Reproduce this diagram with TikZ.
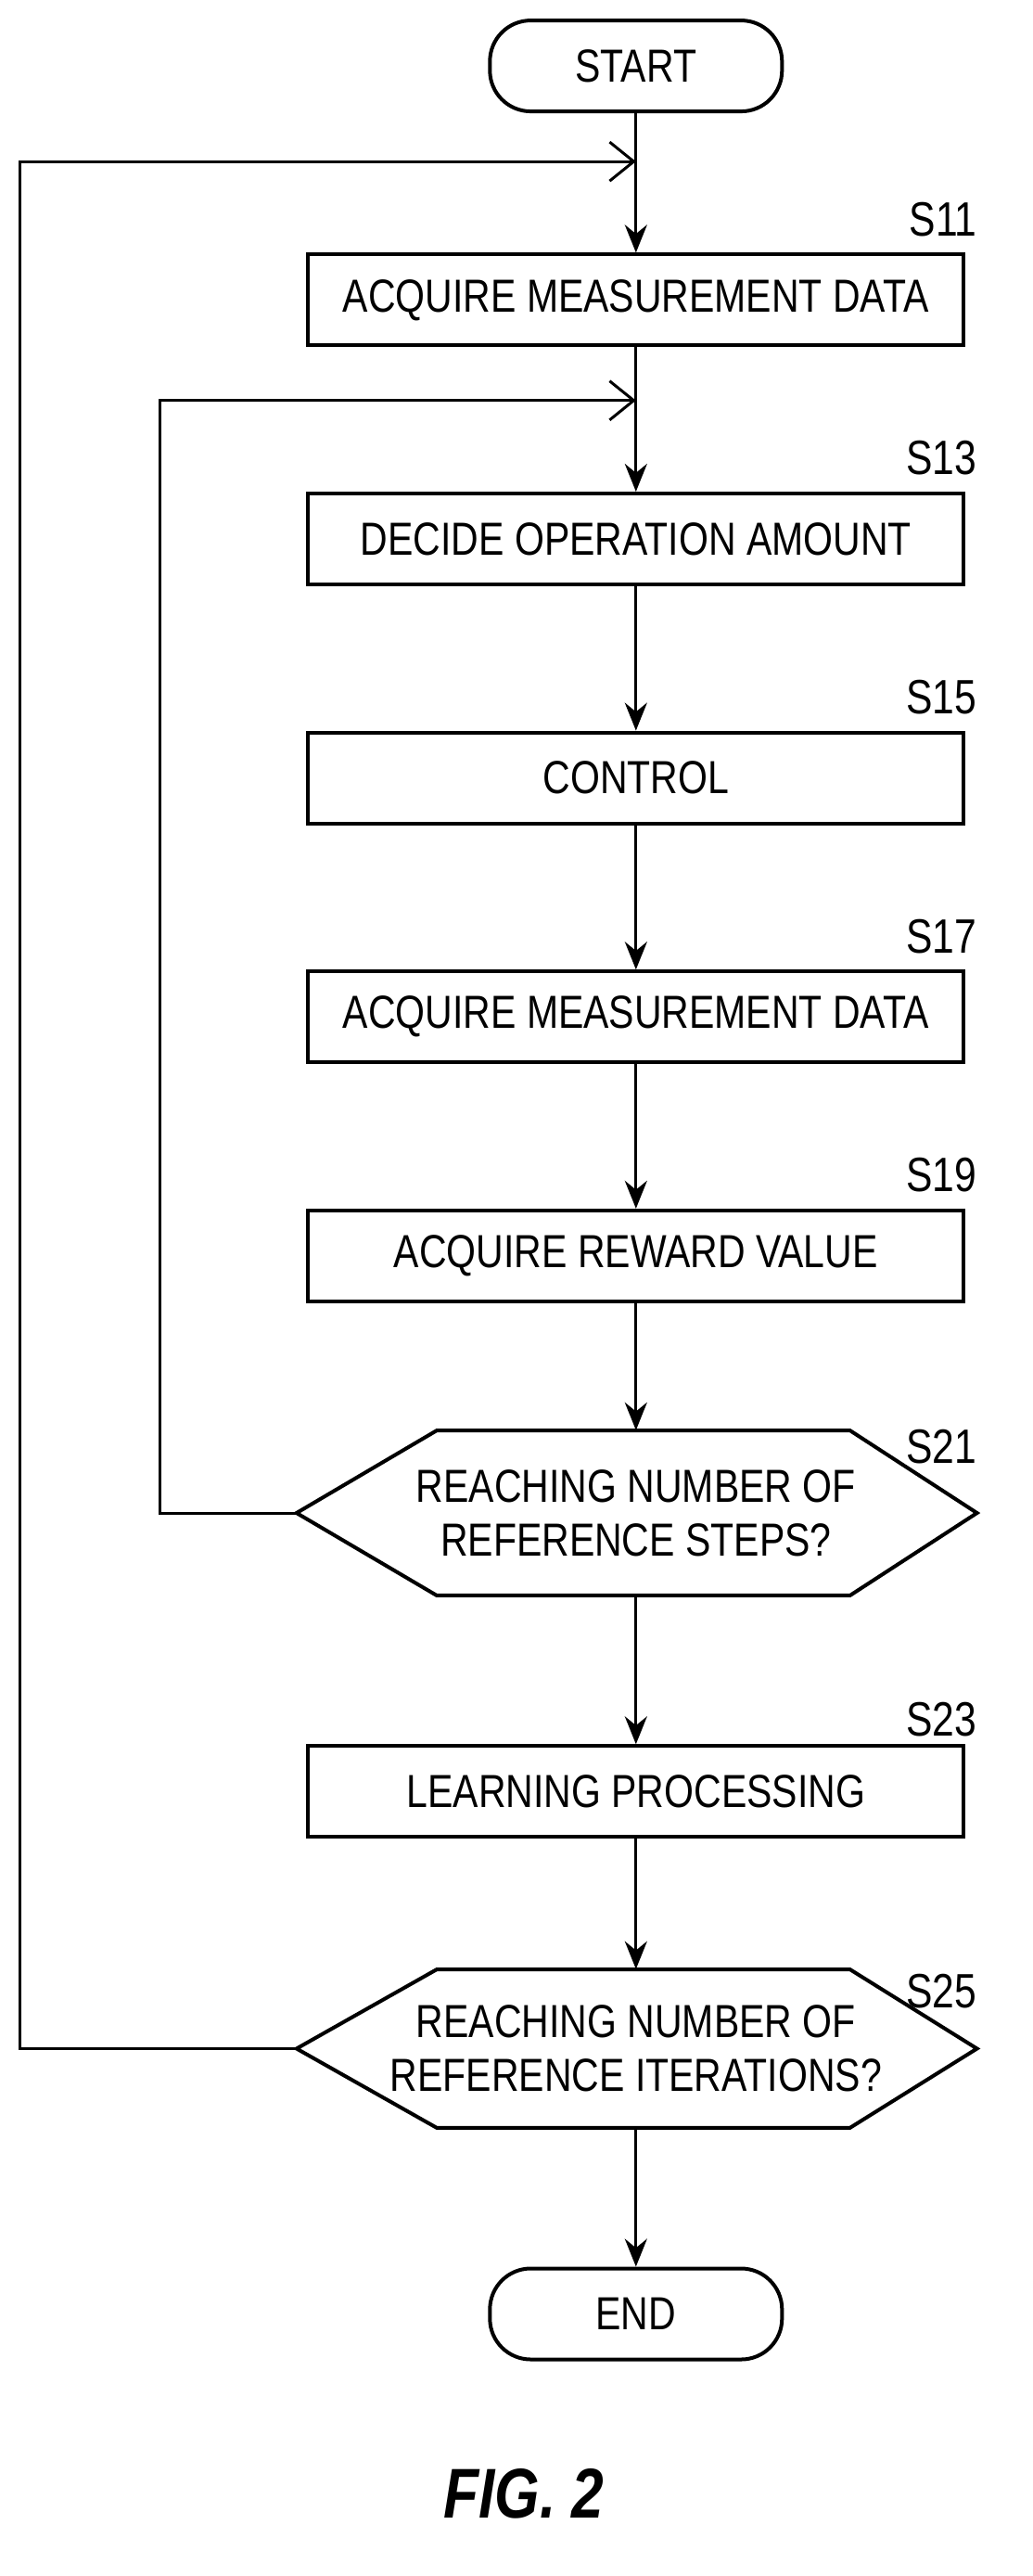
\documentclass[tikz,border=0pt]{standalone}
\usepackage{fontspec}
\setmainfont{Liberation Sans}[FakeStretch=0.82]
\usetikzlibrary{arrows.meta,positioning}
\begin{document}
\begin{tikzpicture}[x=1.7767pt,y=-1.7767pt,
  txt/.style={font=\fontsize{50}{58}\selectfont, align=center},
  box/.style={draw, line width=4pt, minimum width=707pt, minimum height=98pt, inner sep=0pt, txt},
  term/.style={draw, line width=4pt, rounded corners=44pt, minimum width=315pt, minimum height=98pt, inner sep=0pt, txt},
  lab/.style={font=\fontsize{52}{60}\selectfont, anchor=east, inner sep=0pt},
  flow/.style={line width=3pt, -{Stealth[length=30pt,width=24pt]}},
  back/.style={line width=3pt, -{Straight Barb[length=26pt,width=42pt,line width=3pt]}},
  hex/.style={line width=4pt, line join=miter}]
\useasboundingbox (0,0) rectangle (627,1563);
\node[term] (start) at (386,40) {START};
\node[box] (s11) at (386,182) {ACQUIRE MEASUREMENT DATA};
\node[box] (s13) at (386,327) {DECIDE OPERATION AMOUNT};
\node[box] (s15) at (386,472) {CONTROL};
\node[box] (s17) at (386,617) {ACQUIRE MEASUREMENT DATA};
\node[box] (s19) at (386,762) {ACQUIRE REWARD VALUE};
% hexagon S21
\draw[hex] (180,918) -- (265,868) -- (516,868) -- (593,918) -- (516,968) -- (265,968) -- cycle;
\node[txt, minimum width=734pt, minimum height=178pt, inner sep=0pt] (s21) at (386,918) {REACHING NUMBER OF\\REFERENCE STEPS?};
\coordinate (s21w) at (180,918);
\node[box] (s23) at (386,1087) {LEARNING PROCESSING};
\draw[hex] (180,1243) -- (265,1195) -- (516,1195) -- (593,1243) -- (516,1291) -- (265,1291) -- cycle;
\node[txt, minimum width=734pt, minimum height=171pt, inner sep=0pt] (s25) at (386,1243) {REACHING NUMBER OF\\REFERENCE ITERATIONS?};
\coordinate (s25w) at (180,1243);
\node[term] (end) at (386,1404) {END};
\node[lab] (l11) at (593,133) {S11};
\node[lab] (l13) at (593,278) {S13};
\node[lab] (l15) at (593,423) {S15};
\node[lab] (l17) at (593,568) {S17};
\node[lab] (l19) at (593,713) {S19};
\node[lab] (l21) at (593,878) {S21};
\node[lab] (l23) at (593,1043) {S23};
\node[lab] (l25) at (593,1208) {S25};
\node[font=\fontsize{76}{80}\selectfont\bfseries\itshape] (fig) at (318,1513) {FIG. 2};
\coordinate (j1) at (386,98);
\coordinate (j2) at (386,243);
\draw[flow] (start) -- (s11);
\draw[flow] (s11) -- (s13);
\draw[flow] (s13) -- (s15);
\draw[flow] (s15) -- (s17);
\draw[flow] (s17) -- (s19);
\draw[flow] (s19) -- (s21);
\draw[flow] (s21) -- (s23);
\draw[flow] (s23) -- (s25);
\draw[flow] (s25) -- (end);
\draw[back] (s21w) -- (97,918) -- (97,243) -- (j2);
\draw[back] (s25w) -- (12,1243) -- (12,98) -- (j1);
\end{tikzpicture}
\end{document}
